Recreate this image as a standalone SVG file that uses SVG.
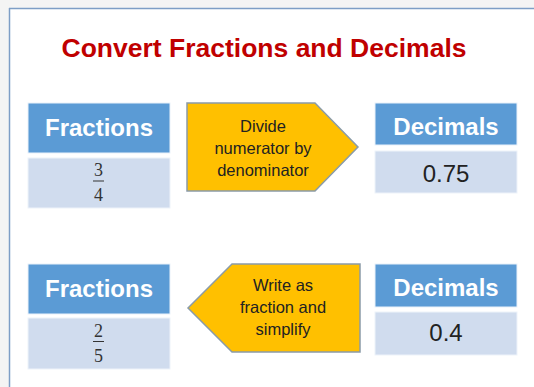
<svg xmlns="http://www.w3.org/2000/svg" width="534" height="387" viewBox="0 0 534 387">
<style>
.hdr{fill:#5B9BD5;stroke:#EAF1FA;stroke-width:1}
.val{fill:#D0DCEE;stroke:#EEF3FA;stroke-width:1}
.ht{font-family:"Liberation Sans",Arial,sans-serif;font-weight:bold;font-size:24px;fill:#FFFFFF;text-anchor:middle}
.vt{font-family:"Liberation Sans",Arial,sans-serif;font-size:24px;fill:#222222;text-anchor:middle}
.ft{font-family:"Liberation Serif","Times New Roman",serif;font-size:18px;fill:#333333;text-anchor:middle}
.arr{fill:#FFC000;stroke:#8A9BA8;stroke-width:1.5}
.at{font-family:"Liberation Sans",Arial,sans-serif;font-size:16.5px;fill:#222222;text-anchor:middle}
</style>
<rect x="0" y="0" width="534" height="387" fill="#F4F4F4"/>
<rect x="9" y="8" width="525" height="379" fill="#FFFFFF"/>
<line x1="9" y1="8.5" x2="534" y2="8.5" stroke="#7E9EC6" stroke-width="1.5"/>
<line x1="9.5" y1="8" x2="9.5" y2="387" stroke="#7E9EC6" stroke-width="1.5"/>
<text x="264" y="57" font-family="'Liberation Sans',Arial,sans-serif" font-weight="bold" font-size="26.5" fill="#C00000" text-anchor="middle" textLength="405" lengthAdjust="spacingAndGlyphs">Convert Fractions and Decimals</text>

<g id="fractions1">
<rect class="hdr" x="28" y="103" width="142" height="50"/>
<text class="ht" x="99" y="136">Fractions</text>
<rect class="val" x="28" y="158" width="142" height="50"/>
<text class="ft" x="98.5" y="176">3</text>
<line x1="93" y1="181" x2="104" y2="181" stroke="#333333" stroke-width="1"/>
<text class="ft" x="98.5" y="201">4</text>
</g>

<g id="decimals1">
<rect class="hdr" x="375" y="103" width="142" height="42"/>
<text class="ht" x="446" y="135">Decimals</text>
<rect class="val" x="375" y="151" width="142" height="42"/>
<text class="vt" x="446" y="182">0.75</text>
</g>

<g id="fractions2">
<rect class="hdr" x="28" y="264" width="142" height="50"/>
<text class="ht" x="99" y="297">Fractions</text>
<rect class="val" x="28" y="318" width="142" height="51"/>
<text class="ft" x="98.5" y="337">2</text>
<line x1="93" y1="341.5" x2="104" y2="341.5" stroke="#333333" stroke-width="1"/>
<text class="ft" x="98.5" y="362">5</text>
</g>

<g id="decimals2">
<rect class="hdr" x="375" y="264" width="142" height="43"/>
<text class="ht" x="446" y="296">Decimals</text>
<rect class="val" x="375" y="312" width="142" height="43"/>
<text class="vt" x="446" y="341">0.4</text>
</g>

<g id="connectors">
<g id="arrow1">
<polygon class="arr" points="187,103 315,103 358,147 315,191 187,191"/>
<text class="at" x="263" y="132">Divide</text>
<text class="at" x="263" y="154">numerator by</text>
<text class="at" x="263" y="176">denominator</text>
</g>
<g id="arrow2">
<polygon class="arr" points="360,264 232,264 188,308 232,352 360,352"/>
<text class="at" x="283" y="291">Write as</text>
<text class="at" x="283" y="313">fraction and</text>
<text class="at" x="283" y="335">simplify</text>
</g>
</g>
</svg>
